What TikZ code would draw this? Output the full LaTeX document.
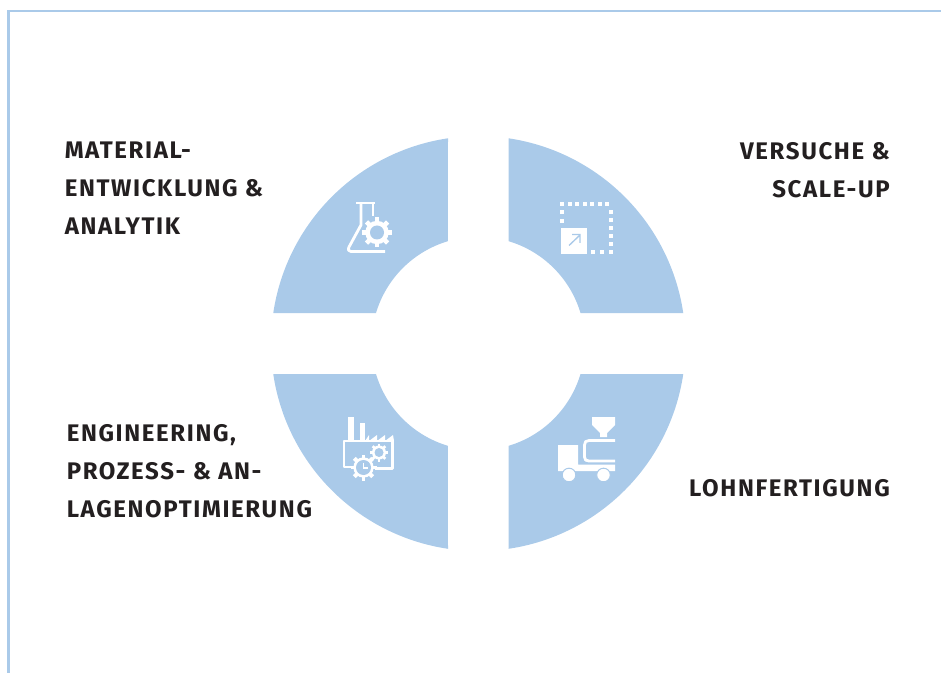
\documentclass[tikz,border=0pt]{standalone}
\usepackage{xcolor}
\usepackage{fontspec}
\setmainfont{Fira Sans}[LetterSpace=6.8,BoldFont={Fira Sans Bold}]
\definecolor{petalblue}{RGB}{170,202,233}
\definecolor{labelink}{RGB}{35,31,32}
\tikzset{
  petal/.style={fill=petalblue,draw=none},
  frameline/.style={draw=petalblue,line width=1.9pt},
  iconline/.style={draw=white,line width=2.1pt,line join=round},
  iconfill/.style={fill=white,draw=none},
  labeltext/.style={inner sep=0.75pt,text=labelink,font=\bfseries\fontsize{18}{28.5}\selectfont}
}
% x y outer radius, hole radius
\newcommand{\cogwheel}[4]{
  \foreach \a in {0,45,...,315}
    \draw [white,line width=#3*0.23pt] (#1,#2) -- ++(\a:#3);
  \fill [white] (#1,#2) circle (#3*0.78);
  \fill [petalblue] (#1,#2) circle (#4);
}
\begin{document}
\begin{tikzpicture}[x=0.75pt,y=0.75pt,yscale=-1,xscale=1]
\useasboundingbox (0,0) rectangle (941,673);
%Frame
\draw [frameline] (8.5,673) -- (8.5,11) -- (941,11) ;
%Shape: Ring top left
\path [petal] (448,138.3) arc (261.55:188.45:207.5) -- (376,313) arc (196.6:253.4:106.7) -- cycle ;
%Shape: Ring top right
\path [petal] (508.5,138.3) arc (278.45:351.55:207.5) -- (580.5,313) arc (343.4:286.6:106.7) -- cycle ;
%Shape: Ring bottom left
\path [petal] (448,548.8) arc (98.45:171.55:207.5) -- (376,374) arc (163.4:106.6:106.7) -- cycle ;
%Shape: Ring bottom right
\path [petal] (508.5,548.8) arc (81.55:8.45:207.5) -- (580.5,374) arc (16.6:73.4:106.7) -- cycle ;
%Icon: flask
\draw [iconline] (356,203) -- (375,203) ;
\draw [iconline] (361,203) -- (361,225) -- (349,247) .. controls (347.5,250) and (349,251.5) .. (351,251.5) -- (385,251.5) ;
\draw [iconline] (373,203) -- (373,216) ;
\cogwheel{377}{232.5}{15}{7}
%Icon: dotted square
\foreach \x in {562,569.5,...,612}
  \fill [white] (\x,204) ++(-2,-2) rectangle ++(4,4);
\foreach \y in {212,220,...,252}
  \fill [white] (611,\y) ++(-2,-2) rectangle ++(4,4);
\foreach \y in {212.5,221}
  \fill [white] (562,\y) ++(-2,-2) rectangle ++(4,4);
\foreach \x in {593,602}
  \fill [white] (\x,252) ++(-2,-2) rectangle ++(4,4);
\path [iconfill] (561,228) rectangle (587,254) ;
\draw [petalblue,line width=1pt] (569,245.5) -- (580,235) (572,234.5) -- (580,234.5) -- (580,243) ;
%Icon: factory
\path [iconfill] (348,417) rectangle (354,441) ;
\path [iconfill] (360,423) rectangle (365,441) ;
\path [iconfill] (365,441) -- (369,435) -- (369,441) -- (377,435) -- (377,441) -- (385,435) -- (385,441) -- (393,435) -- (394,441) -- cycle ;
\draw [iconline] (352,467) -- (344,467) -- (344,441) -- (392.5,441) -- (392.5,468.5) -- (375,468.5) ;
\cogwheel{379}{452.5}{9}{4.5}
\cogwheel{363.5}{467.5}{13}{7.5}
\draw [white,line width=1pt] (363.5,462.5) -- (363.5,468) -- (368,468) ;
%Icon: hopper
\path [iconfill] (592,417) -- (615,417) -- (615,425) -- (607,433) -- (607,437) -- (600,437) -- (600,433) -- (592,425) -- cycle ;
\draw [iconline] (615,440.5) -- (589,440.5) .. controls (586,440.5) and (584.5,442) .. (584.5,445) -- (584.5,457) .. controls (584.5,460) and (586,461) .. (589,461) -- (615,461) ;
%Icon: truck
\path [iconfill] (558,445) -- (578,445) -- (578,464.5) -- (615,464.5) -- (615,471) -- (558,471) -- cycle ;
\draw [draw=petalblue,fill=white,line width=0.75pt] (569,475) circle (6.8) ;
\draw [draw=petalblue,fill=white,line width=0.75pt] (603.5,475) circle (6.8) ;
% Text Node
\draw (63.5,141) node [anchor=north west][labeltext,align=left] (material) {MATERIAL-\\ENTWICKLUNG \&\\ANALYTIK};
% Text Node
\draw (891,141) node [anchor=north east][labeltext,align=right] (versuche) {VERSUCHE \&\\SCALE-UP};
% Text Node
\draw (65.5,423) node [anchor=north west][labeltext,align=left] (engineering) {ENGINEERING,\\PROZESS- \& AN-\\LAGENOPTIMIERUNG};
% Text Node
\draw (891,478) node [anchor=north east][labeltext,align=right] (lohn) {LOHNFERTIGUNG};
\end{tikzpicture}
\end{document}
